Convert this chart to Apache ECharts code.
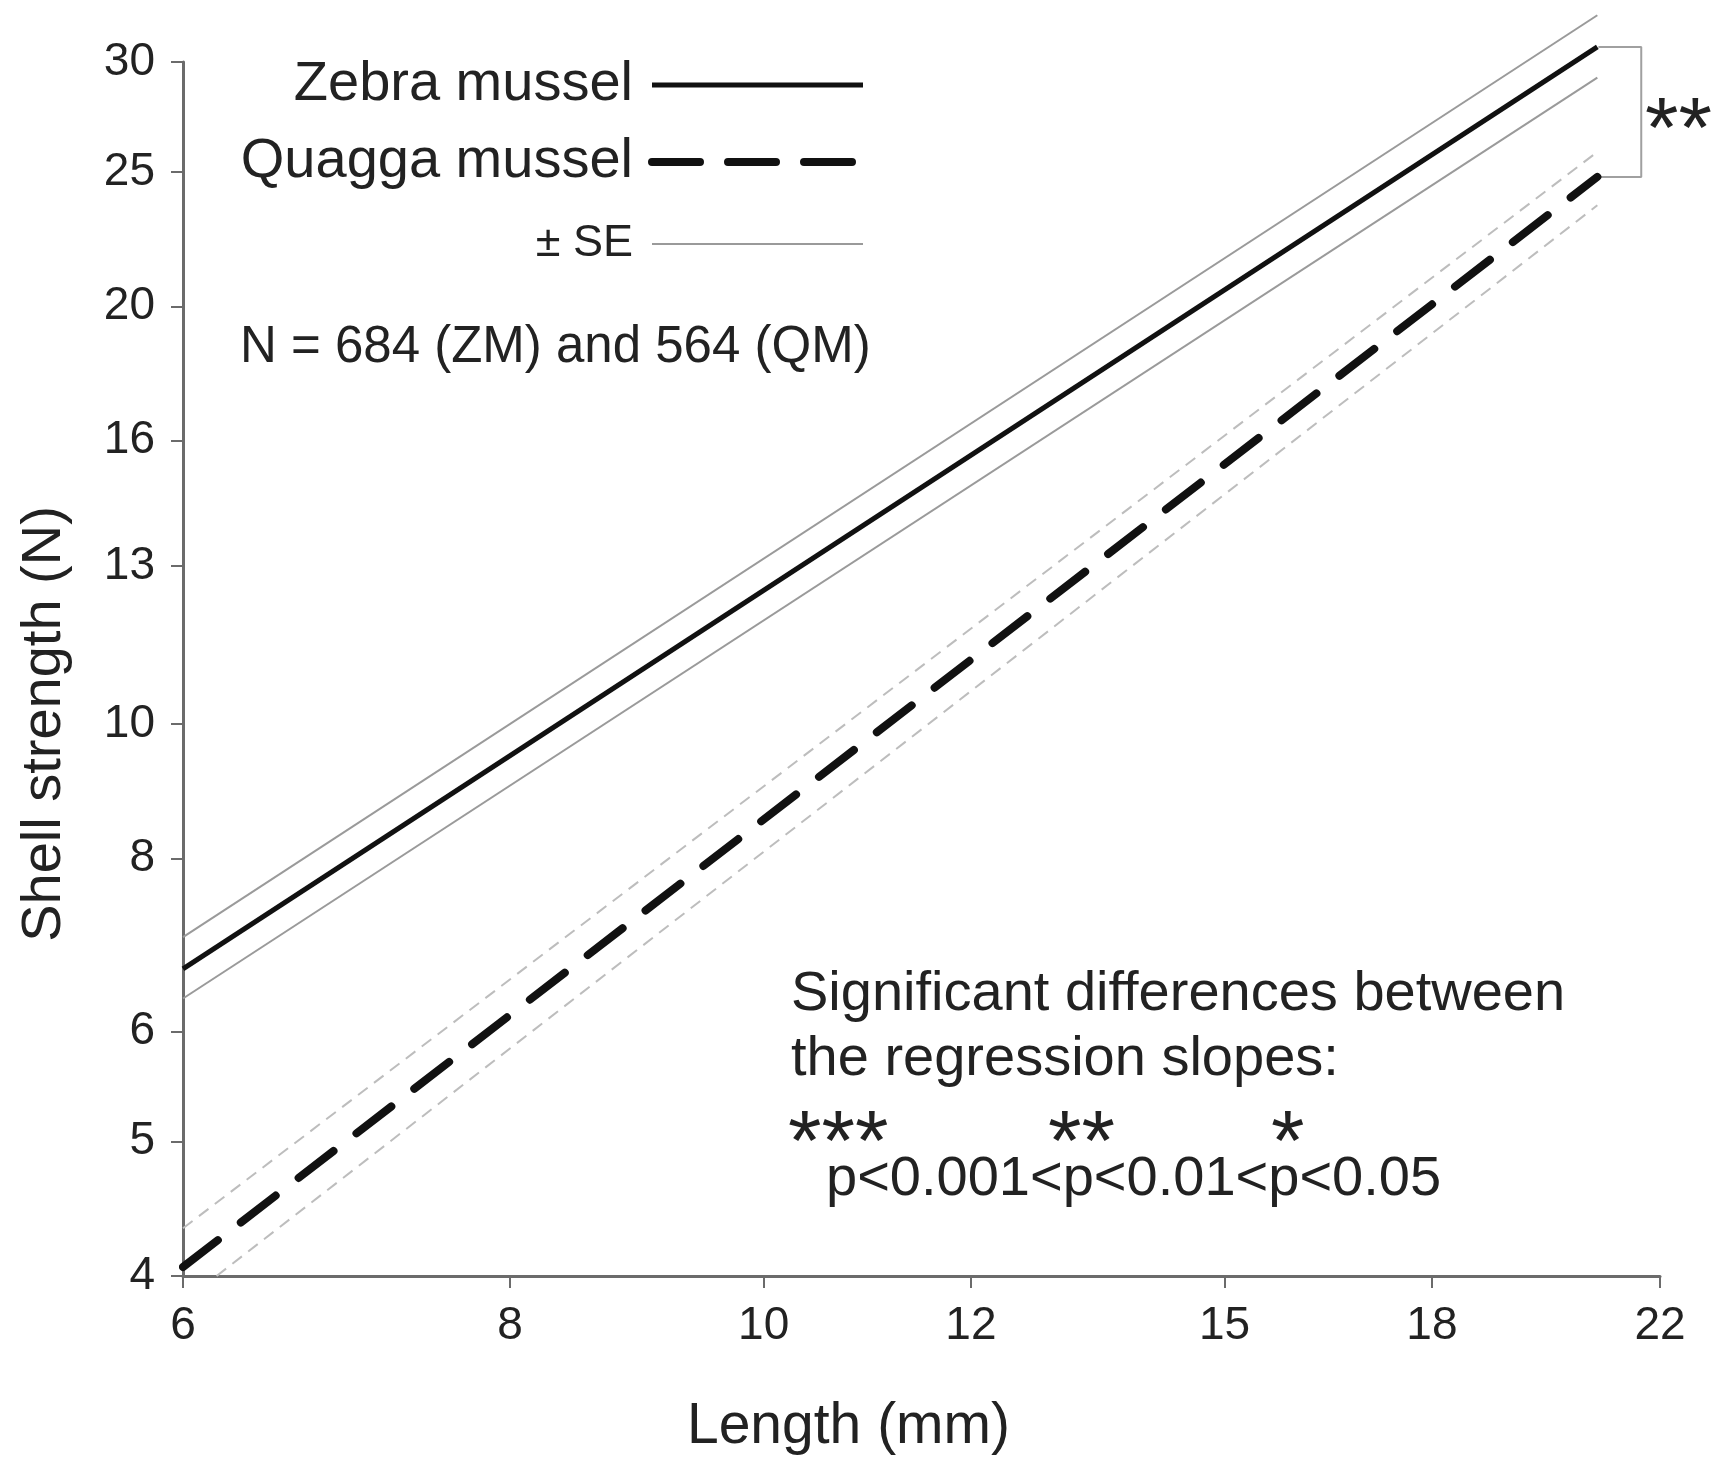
<!DOCTYPE html>
<html><head><meta charset="utf-8">
<script src="https://cdn.jsdelivr.net/npm/echarts@6/dist/echarts.min.js"></script>
<style>html,body{margin:0;padding:0;background:#fff}#c{width:1721px;height:1461px}</style>
</head><body><div id="c"></div>
<script>
// ---- data ----
const xTicks = [6, 8, 10, 12, 15, 18, 22];
const yTicks = [4, 5, 6, 8, 10, 13, 16, 20, 25, 30];
const lengthEnds = [6, 20.82];
const zebraMean = [6.66, 30.76];
const zebraUpper = [7.02, 32.42];
const zebraLower = [6.34, 29.23];
const quaggaMean = [4.06, 24.79];
const quaggaUpper = [4.33, 25.84];
const quaggaLowerX = [6.18, 20.82];
const quaggaLower = [4.0, 23.65];
const bracketX = [20.84, 21.64, 21.64, 20.84];
const bracketY = [30.76, 30.76, 24.79, 24.79];

const F = '"Liberation Sans", Arial, Helvetica, sans-serif';
const zip = (xs, ys) => xs.map((x, i) => [x, ys[i]]);

function lineSeries(name, xs, ys, style) {
  return {
    name: name, type: 'line', data: zip(xs, ys), symbol: 'none', showSymbol: false,
    clip: false, silent: true, animation: false, z: style.z || 2,
    color: style.lineStyle.color,
    itemStyle: {color: style.lineStyle.color},
    lineStyle: style.lineStyle
  };
}

const chart = echarts.init(document.getElementById('c'), null, {renderer: 'canvas'});
const axisColor = '#6b6b6b';
chart.setOption({
  backgroundColor: '#fff',
  animation: false,
  grid: {left: 183, right: 61, top: 62, bottom: 185},
  legend: {
    orient: 'vertical', right: 854, top: 57, align: 'right', padding: 0,
    itemWidth: 211, itemHeight: 20, itemGap: 21, selectedMode: false,
    itemStyle: {opacity: 0},
    textStyle: {fontSize: 56, color: '#222', fontFamily: F, lineHeight: 56, padding: [0, 14, 0, 0]},
    data: [
      {name: 'Zebra mussel', lineStyle: {width: 5, color: '#111'}},
      {name: 'Quagga mussel', lineStyle: {width: 8, color: '#111', type: [48, 28], cap: 'round'}},
      {name: '± SE', lineStyle: {width: 2, color: '#9a9a9a'}, textStyle: {fontSize: 45, lineHeight: 66}}
    ]
  },
  xAxis: {
    type: 'log', min: 6, max: 22,
    axisLine: {show: true, onZero: false, lineStyle: {color: axisColor, width: 3}},
    axisTick: {show: true, length: 12, customValues: xTicks, lineStyle: {color: axisColor, width: 2}},
    axisLabel: {customValues: xTicks, fontSize: 46, color: '#222', margin: 27, fontFamily: F},
    splitLine: {show: false}, minorTick: {show: false},
    name: 'Length (mm)', nameLocation: 'middle', nameGap: 123,
    nameTextStyle: {fontSize: 57, color: '#222', fontFamily: F, padding: [0, 146, 0, 0]}
  },
  yAxis: {
    type: 'log', min: 4, max: 30,
    axisLine: {show: true, onZero: false, lineStyle: {color: axisColor, width: 3}},
    axisTick: {show: true, length: 12, customValues: yTicks, lineStyle: {color: axisColor, width: 2}},
    axisLabel: {customValues: yTicks, fontSize: 46, color: '#222', margin: 28, fontFamily: F},
    splitLine: {show: false}, minorTick: {show: false},
    name: 'Shell strength (N)', nameLocation: 'middle', nameGap: 110, nameRotate: 90,
    nameTextStyle: {fontSize: 56, color: '#222', fontFamily: F, padding: [0, 110, 0, 0]}
  },
  series: [
    lineSeries('± SE', lengthEnds, zebraUpper, {lineStyle: {color: '#9a9a9a', width: 2}}),
    lineSeries('± SE', lengthEnds, zebraLower, {lineStyle: {color: '#9a9a9a', width: 2}}),
    lineSeries('Quagga SE upper', lengthEnds, quaggaUpper, {lineStyle: {color: '#bdbdbd', width: 2, type: [12, 8]}}),
    lineSeries('Quagga SE lower', quaggaLowerX, quaggaLower, {lineStyle: {color: '#bdbdbd', width: 2, type: [12, 8]}}),
    lineSeries('Zebra mussel', lengthEnds, zebraMean, {z: 3, lineStyle: {color: '#111', width: 5}}),
    lineSeries('Quagga mussel', lengthEnds, quaggaMean, {z: 3, lineStyle: {color: '#111', width: 8, type: [44, 29], cap: 'round'}}),
    lineSeries('bracket', bracketX, bracketY, {lineStyle: {color: '#a0a0a0', width: 2}})
  ],
  graphic: [
    {type: 'text', left: 240, top: 322, style: {text: 'N = 684 (ZM) and 564 (QM)', font: '51px ' + F, fill: '#222'}},
    {type: 'text', x: 791, y: 995, style: {text: 'Significant differences between', font: '56px ' + F, fill: '#222', verticalAlign: 'middle'}},
    {type: 'text', x: 791, y: 1060, style: {text: 'the regression slopes:', font: '56px ' + F, fill: '#222', verticalAlign: 'middle'}},
    {type: 'text', x: 788, y: 1146, style: {text: '***', font: '86px ' + F, fill: '#222', verticalAlign: 'middle'}},
    {type: 'text', x: 1048, y: 1146, style: {text: '**', font: '86px ' + F, fill: '#222', verticalAlign: 'middle'}},
    {type: 'text', x: 1271, y: 1146, style: {text: '*', font: '86px ' + F, fill: '#222', verticalAlign: 'middle'}},
    {type: 'text', x: 826, y: 1180, style: {text: 'p<0.001<p<0.01<p<0.05', font: '56px ' + F, fill: '#222', verticalAlign: 'middle'}},
    {type: 'text', x: 1645, y: 133, style: {text: '**', font: '86px ' + F, fill: '#222', verticalAlign: 'middle'}}
  ]
});
</script></body></html>
